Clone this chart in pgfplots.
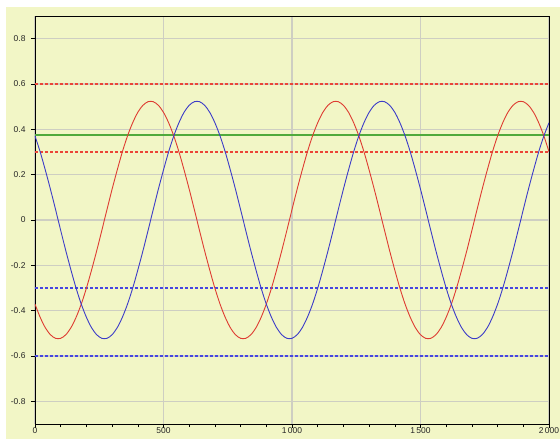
\documentclass[border=0pt]{standalone}
\usepackage{pgfplots}
\usepackage{pgfplotstable}
\usepackage{fontspec}
\setmainfont{Liberation Sans}
\pgfplotsset{compat=1.18}
\definecolor{bgyel}{RGB}{242,246,198}
\definecolor{gridc}{RGB}{206,206,194}
\definecolor{cred}{RGB}{222,60,50}
\definecolor{cblue}{RGB}{60,60,200}
\definecolor{cgreen}{RGB}{80,170,60}
\definecolor{dred}{RGB}{235,70,55}
\definecolor{dblue}{RGB}{70,70,225}
\pgfplotstableread{
x red blue
0 -0.371 0.371
20 -0.429 0.301
40 -0.475 0.221
60 -0.506 0.136
80 -0.522 0.046
100 -0.522 -0.046
120 -0.506 -0.136
140 -0.475 -0.221
160 -0.429 -0.301
180 -0.371 -0.371
200 -0.301 -0.429
220 -0.221 -0.475
240 -0.136 -0.506
260 -0.046 -0.522
280 0.046 -0.522
300 0.136 -0.506
320 0.221 -0.475
340 0.301 -0.429
360 0.371 -0.371
380 0.429 -0.301
400 0.475 -0.221
420 0.506 -0.136
440 0.522 -0.046
460 0.522 0.046
480 0.506 0.136
500 0.475 0.221
520 0.429 0.301
540 0.371 0.371
560 0.301 0.429
580 0.221 0.475
600 0.136 0.506
620 0.046 0.522
640 -0.046 0.522
660 -0.136 0.506
680 -0.221 0.475
700 -0.301 0.429
720 -0.371 0.371
740 -0.429 0.301
760 -0.475 0.221
780 -0.506 0.136
800 -0.522 0.046
820 -0.522 -0.046
840 -0.506 -0.136
860 -0.475 -0.221
880 -0.429 -0.301
900 -0.371 -0.371
920 -0.301 -0.429
940 -0.221 -0.475
960 -0.136 -0.506
980 -0.046 -0.522
1000 0.046 -0.522
1020 0.136 -0.506
1040 0.221 -0.475
1060 0.301 -0.429
1080 0.371 -0.371
1100 0.429 -0.301
1120 0.475 -0.221
1140 0.506 -0.136
1160 0.522 -0.046
1180 0.522 0.046
1200 0.506 0.136
1220 0.475 0.221
1240 0.429 0.301
1260 0.371 0.371
1280 0.301 0.429
1300 0.221 0.475
1320 0.136 0.506
1340 0.046 0.522
1360 -0.046 0.522
1380 -0.136 0.506
1400 -0.221 0.475
1420 -0.301 0.429
1440 -0.371 0.371
1460 -0.429 0.301
1480 -0.475 0.221
1500 -0.506 0.136
1520 -0.522 0.046
1540 -0.522 -0.046
1560 -0.506 -0.136
1580 -0.475 -0.221
1600 -0.429 -0.301
1620 -0.371 -0.371
1640 -0.301 -0.429
1660 -0.221 -0.475
1680 -0.136 -0.506
1700 -0.046 -0.522
1720 0.046 -0.522
1740 0.136 -0.506
1760 0.221 -0.475
1780 0.301 -0.429
1800 0.371 -0.371
1820 0.429 -0.301
1840 0.475 -0.221
1860 0.506 -0.136
1880 0.522 -0.046
1900 0.522 0.046
1920 0.506 0.136
1940 0.475 0.221
1960 0.429 0.301
1980 0.371 0.371
2000 0.301 0.429
}\datatable
\begin{document}
\begin{tikzpicture}
\useasboundingbox (0,0) rectangle (560bp,439bp);
\fill[white] (0,0) rectangle (560bp,439bp);
\fill[bgyel] (6bp,0) rectangle (560bp,432bp);
\begin{axis}[
  at={(35bp,15bp)}, anchor=south west,
  scale only axis, width=514bp, height=408bp,
  xmin=0, xmax=2000, ymin=-0.9, ymax=0.9,
  axis line style={black, line width=0.9bp},
  xtick={0,500,1000,1500,2000},
  xticklabels={0,500,1\,000,1\,500,2\,000},
  ytick={-0.8,-0.4,-0.2,0,0.2,0.4,0.8},
  yticklabels={-0.8,-0.4,-0.2,0,0.2,0.4,0.8},
  extra y ticks={-0.6,0.6},
  extra y tick labels={-0.6,0.6},
  minor x tick num=4, minor y tick num=3,
  tick align=outside, tick pos=left,
  major tick length=4bp, minor tick length=3bp,
  tick style={black, line width=0.6bp},
  grid=major,
  major grid style={draw=gridc, line width=1.1bp},
  ticklabel style={font=\fontsize{8.5}{10}\selectfont, text=black!85},
  xticklabel style={yshift=1.5bp, inner sep=1bp},
  yticklabel style={xshift=-2bp},
  clip=true,
]
\addplot[dred, line width=1.1bp, dash pattern=on 3bp off 2bp] coordinates {(0,0.6) (2000,0.6)};
\addplot[dred, line width=1.1bp, dash pattern=on 3bp off 2bp] coordinates {(0,0.3) (2000,0.3)};
\addplot[dblue, line width=1.1bp, dash pattern=on 3bp off 2bp] coordinates {(0,-0.3) (2000,-0.3)};
\addplot[dblue, line width=1.1bp, dash pattern=on 3bp off 2bp] coordinates {(0,-0.6) (2000,-0.6)};
\addplot[cgreen, line width=1.2bp] coordinates {(0,0.375) (2000,0.375)};
\addplot[cred, line width=0.9bp, smooth] table[x=x, y=red] {\datatable};
\addplot[cblue, line width=0.9bp, smooth] table[x=x, y=blue] {\datatable};
\end{axis}
\end{tikzpicture}
\end{document}
